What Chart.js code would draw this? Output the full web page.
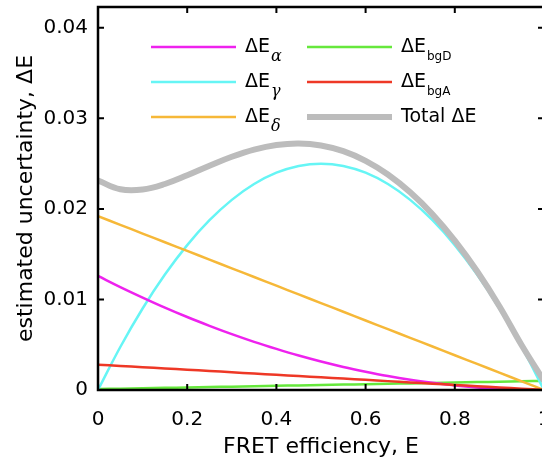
<!DOCTYPE html>
<html>
<head>
<meta charset="utf-8">
<script src="https://cdn.jsdelivr.net/npm/chart.js@4.4.1/dist/chart.umd.min.js"></script>
<style>
  html, body { margin: 0; padding: 0; background: #fff; overflow: hidden; }
  #wrap { width: 542px; height: 461px; overflow: hidden; }
</style>
</head>
<body>
<div id="wrap"><canvas id="fretChart" width="560" height="461"></canvas></div>
<script>
// FRET efficiency grid and the uncertainty contributions
let efficiency = [0, 0.05, 0.1, 0.15, 0.2, 0.25, 0.3, 0.35, 0.4, 0.45, 0.5, 0.55, 0.6, 0.65, 0.7, 0.75, 0.8, 0.85, 0.9, 0.95, 1];
let dEalpha = [0.0126, 0.01137, 0.01021, 0.0091, 0.00806, 0.00709, 0.00617, 0.00532, 0.00454, 0.00381, 0.00315, 0.00255, 0.00202, 0.00154, 0.00113, 0.00079, 0.0005, 0.00028, 0.00013, 0.00003, 0];
let dEgamma = [0, 0.00475, 0.009, 0.01275, 0.016, 0.01875, 0.021, 0.02275, 0.024, 0.02475, 0.025, 0.02475, 0.024, 0.02275, 0.021, 0.01875, 0.016, 0.01275, 0.009, 0.00475, 0];
let dEdelta = [0.0192, 0.01824, 0.01728, 0.01632, 0.01536, 0.0144, 0.01344, 0.01248, 0.01152, 0.01056, 0.0096, 0.00864, 0.00768, 0.00672, 0.00576, 0.0048, 0.00384, 0.00288, 0.00192, 0.00096, 0];
let dEbgD = [0.0001, 0.00015, 0.00019, 0.00024, 0.00028, 0.00033, 0.00037, 0.00042, 0.00046, 0.00051, 0.00055, 0.0006, 0.00064, 0.00069, 0.00073, 0.00078, 0.00082, 0.00087, 0.00091, 0.00096, 0.001];
let dEbgA = [0.0028, 0.00266, 0.00252, 0.00238, 0.00224, 0.0021, 0.00196, 0.00182, 0.00168, 0.00154, 0.0014, 0.00126, 0.00112, 0.00098, 0.00084, 0.0007, 0.00056, 0.00042, 0.00028, 0.00014, 0];
let dEtotal = [0.02314, 0.02217, 0.02214, 0.02275, 0.02371, 0.02477, 0.02576, 0.02655, 0.02706, 0.02723, 0.02701, 0.02638, 0.02531, 0.0238, 0.02183, 0.0194, 0.01649, 0.01311, 0.00925, 0.00494, 0.001];

let xTicks = [0, 0.2, 0.4, 0.6, 0.8, 1];
let yTicks = [0, 0.01, 0.02, 0.03, 0.04];

const FONT = 'DejaVu Sans';

function toPoints(values) {
    return values.map((v, i) => ({ x: efficiency[i], y: v }));
}

// legend entries: main text, subscript, whether the subscript is a greek letter
let legendItems = [
    { label: 'ΔE', sub: 'α', greek: true, color: '#ee22ee', width: 2.5, col: 0, row: 0 },
    { label: 'ΔE', sub: 'γ', greek: true, color: '#66f5f5', width: 2.5, col: 0, row: 1 },
    { label: 'ΔE', sub: 'δ', greek: true, color: '#f6b838', width: 2.5, col: 0, row: 2 },
    { label: 'ΔE', sub: 'bgD', greek: false, color: '#66e83c', width: 2.5, col: 1, row: 0 },
    { label: 'ΔE', sub: 'bgA', greek: false, color: '#ee3826', width: 2.5, col: 1, row: 1 },
    { label: 'Total ΔE', sub: '', greek: false, color: '#bcbcbc', width: 6, col: 1, row: 2 }
];

// box frame with inward ticks on all four sides
const frameTicks = {
    id: 'frameTicks',
    afterDatasetsDraw(chart) {
        const { ctx, chartArea: a, scales: { x, y } } = chart;
        ctx.save();
        ctx.strokeStyle = '#000';
        ctx.lineWidth = 2.5;
        ctx.strokeRect(a.left, a.top, a.right - a.left, a.bottom - a.top);
        ctx.lineWidth = 2;
        ctx.beginPath();
        x.ticks.forEach(t => {
            const px = x.getPixelForValue(t.value);
            ctx.moveTo(px, a.bottom); ctx.lineTo(px, a.bottom - 6);
            ctx.moveTo(px, a.top); ctx.lineTo(px, a.top + 6);
        });
        y.ticks.forEach(t => {
            const py = y.getPixelForValue(t.value);
            ctx.moveTo(a.left, py); ctx.lineTo(a.left + 6, py);
            ctx.moveTo(a.right, py); ctx.lineTo(a.right - 6, py);
        });
        ctx.stroke();
        ctx.restore();
    }
};

// legend with subscripts, drawn inside the plot
const subLegend = {
    id: 'subLegend',
    afterDraw(chart) {
        const ctx = chart.ctx;
        const colX = [151, 307];
        const rowY = [47, 82, 117];
        ctx.save();
        legendItems.forEach(item => {
            const x0 = colX[item.col];
            const yy = rowY[item.row];
            ctx.strokeStyle = item.color;
            ctx.lineWidth = item.width;
            ctx.beginPath();
            ctx.moveTo(x0, yy);
            ctx.lineTo(x0 + 85, yy);
            ctx.stroke();

            ctx.fillStyle = '#000';
            ctx.textBaseline = 'middle';
            ctx.textAlign = 'left';
            ctx.font = '19px "' + FONT + '"';
            const tx = x0 + 94;
            ctx.fillText(item.label, tx, yy);
            if (item.sub) {
                const w = ctx.measureText(item.label).width;
                ctx.font = item.greek ? 'italic 16px "DejaVu Serif"' : '12px "' + FONT + '"';
                ctx.fillText(item.sub, tx + w + 1, yy + 10);
            }
        });
        ctx.restore();
    }
};

let ctx = document.getElementById('fretChart').getContext('2d');

function lineSet(label, values, color, width, order) {
    return {
        label: label,
        data: toPoints(values),
        borderColor: color,
        backgroundColor: color,
        borderWidth: width,
        pointRadius: 0,
        tension: 0.4,
        fill: false,
        order: order
    };
}

let fretChart = new Chart(ctx, {
    type: 'line',
    data: {
        datasets: [
            lineSet('ΔEα', dEalpha, legendItems[0].color, 2.5, 3),
            lineSet('ΔEγ', dEgamma, legendItems[1].color, 2.5, 4),
            lineSet('ΔEδ', dEdelta, legendItems[2].color, 2.5, 2),
            lineSet('ΔEbgD', dEbgD, legendItems[3].color, 2.5, 5),
            lineSet('ΔEbgA', dEbgA, legendItems[4].color, 2.5, 1),
            lineSet('Total ΔE', dEtotal, legendItems[5].color, 6, 0)
        ]
    },
    options: {
        responsive: false,
        animation: false,
        devicePixelRatio: 1,
        layout: { padding: { left: 9, top: 7, right: 16, bottom: 0 } },
        plugins: {
            legend: { display: false },
            tooltip: { enabled: false }
        },
        scales: {
            x: {
                type: 'linear',
                min: 0,
                max: 1,
                afterBuildTicks: scale => { scale.ticks = xTicks.map(v => ({ value: v })); },
                afterFit: scale => { scale.height = 71; scale.paddingLeft = 0; scale.paddingRight = 0; },
                grid: { display: false, drawTicks: false },
                border: { display: false },
                ticks: {
                    color: '#000',
                    padding: 18,
                    maxRotation: 0,
                    font: { family: FONT, size: 20 },
                    callback: v => String(v)
                },
                title: {
                    display: true,
                    text: 'FRET efficiency, E',
                    color: '#000',
                    font: { family: FONT, size: 22 },
                    padding: { top: 0, bottom: 1 }
                }
            },
            y: {
                type: 'linear',
                min: 0,
                max: 0.0423,
                afterBuildTicks: scale => { scale.ticks = yTicks.map(v => ({ value: v })); },
                afterFit: scale => { scale.width = 89; scale.paddingTop = 0; scale.paddingBottom = 0; },
                grid: { display: false, drawTicks: false },
                border: { display: false },
                ticks: {
                    color: '#000',
                    padding: 10,
                    font: { family: FONT, size: 20 },
                    callback: v => String(v)
                },
                title: {
                    display: true,
                    text: 'estimated uncertainty, ΔE',
                    color: '#000',
                    font: { family: FONT, size: 22 },
                    padding: { top: 4, bottom: 4 }
                }
            }
        }
    },
    plugins: [frameTicks, subLegend]
});
</script>
</body>
</html>
